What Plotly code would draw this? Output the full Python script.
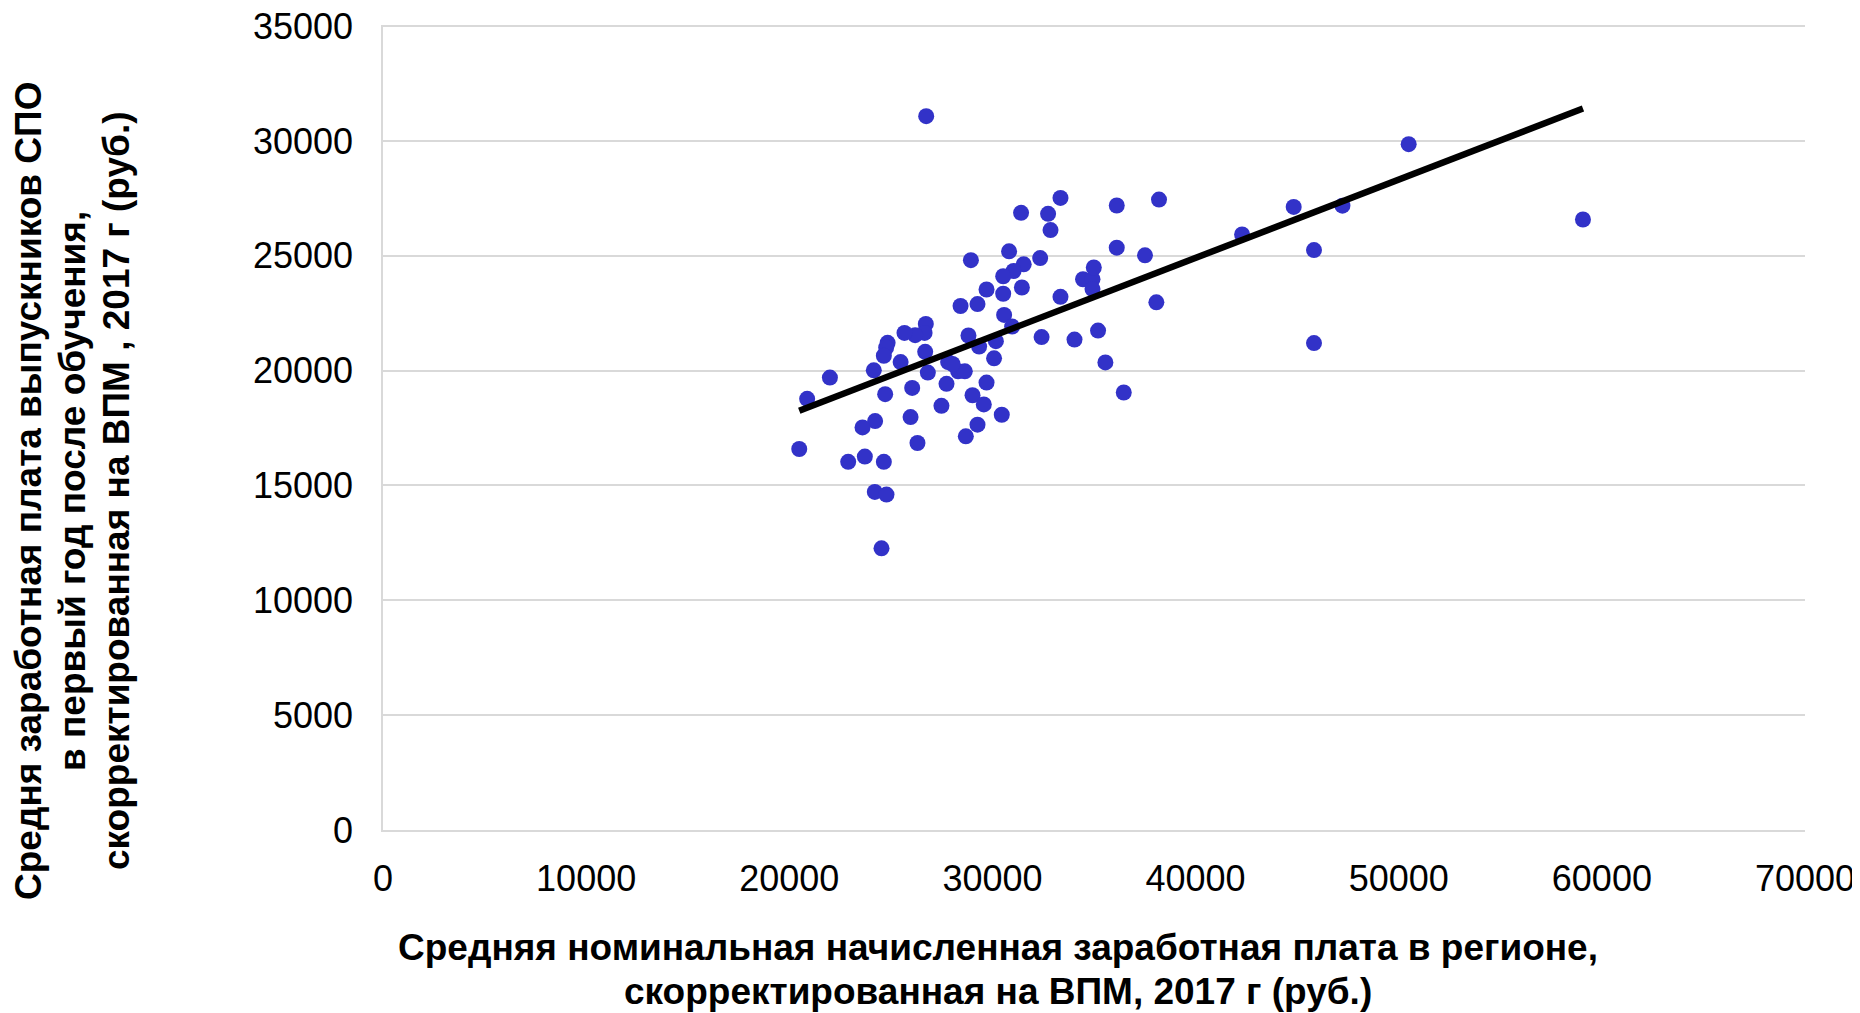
import plotly.graph_objects as go

# Regional average nominal wage (x) vs. graduate wage (y), rubles
region_wage = [
    33350, 31410, 32740, 32860, 36120, 38200, 28940, 30820, 32350, 36120,
    37510, 31540, 31040, 30530, 29710, 31450, 30530, 28430, 29265, 30575,
    30970, 33350, 34460, 34925, 34990, 34925, 35200, 32420, 34040, 35560,
    36465, 38070, 28820, 30170, 29345, 30080, 27820, 28310, 28640, 27740,
    29710, 29020, 29575, 27490, 30460, 29265, 28690, 26720, 26660, 26195,
    25670, 26690, 26820, 25480, 24840, 24770, 24655, 24160, 22000, 20880,
    24720, 26050, 25970, 24225, 23605, 26310, 20490, 22900, 23720, 24655,
    24210, 24785, 24540, 28035, 42290, 44830, 47230, 45830, 45830, 50490,
    59070, 26740,
]
graduate_wage = [
    27520, 26870, 26830, 26120, 27190, 27450, 24810, 25195, 24900, 25355,
    25020, 24630, 24340, 24110, 23535, 23620, 23350, 22815, 22900, 22425,
    21920, 23215, 23980, 23980, 24490, 23550, 21745, 21460, 21355, 20360,
    19050, 22975, 21530, 21285, 21050, 20535, 20375, 19970, 19970, 19425,
    19480, 18930, 18530, 18470, 18080, 17650, 17140, 22035, 21645, 21545,
    21645, 20820, 19915, 20375, 21210, 21005, 20650, 20015, 19700, 18775,
    18975, 19250, 17980, 17805, 17530, 16850, 16590, 16030, 16260, 16030,
    14720, 14605, 12265, 20290, 25930, 27130, 27185, 25250, 21200, 29860,
    26580, 31080,
]
# Linear trend line end points
trend_x = [20490, 59070]
trend_y = [18255, 31415]

x_ticks = [0, 10000, 20000, 30000, 40000, 50000, 60000, 70000]
y_ticks = [0, 5000, 10000, 15000, 20000, 25000, 30000, 35000]

x_title_lines = [
    "Средняя номинальная начисленная заработная плата в регионе,",
    "скорректированная на ВПМ, 2017 г (руб.)",
]
y_title_lines = [
    "Средня заработная плата выпускников СПО",
    "в первый год после обучения,",
    "скорректированная на ВПМ , 2017 г (руб.)",
]

FONT = "Liberation Sans, Arial, sans-serif"
TITLE_SIZE = 37

# page body has an 8px margin, figure sized to fit the 1860x1013 window
W, H = 1852, 1005
OFF = 8
PL, PR, PT, PB = 383, 1805, 25, 830   # plot area in window pixels
Y_MAX = 35050   # a hair above 35000 so that the top gridline is drawn


def px_x(X):
    return (X - PL) / (PR - PL)


def px_y(Y):
    return (PB - Y) / (PB - PT)


fig = go.Figure()
fig.add_trace(go.Scatter(
    x=region_wage, y=graduate_wage, mode="markers",
    marker=dict(size=16, color="#3232C8", line=dict(width=0)),
    showlegend=False,
))
fig.add_trace(go.Scatter(
    x=trend_x, y=trend_y, mode="lines",
    line=dict(color="black", width=6.5),
    showlegend=False,
))

annotations = []
for txt, Y in zip(x_title_lines, [947, 991]):
    annotations.append(dict(
        text="<b>" + txt + "</b>", xref="paper", yref="paper",
        x=px_x(997.6), y=px_y(Y), xanchor="center", yanchor="middle",
        showarrow=False, font=dict(size=TITLE_SIZE, family=FONT, color="black")))
for txt, X in zip(y_title_lines, [28, 72, 116]):
    annotations.append(dict(
        text="<b>" + txt + "</b>", xref="paper", yref="paper",
        x=px_x(X), y=px_y(491), xanchor="center", yanchor="middle",
        textangle=-90, showarrow=False,
        font=dict(size=TITLE_SIZE, family=FONT, color="black")))

fig.update_layout(
    width=W, height=H,
    margin=dict(l=PL - OFF, r=OFF + W - PR, t=PT - OFF, b=OFF + H - PB),
    paper_bgcolor="white", plot_bgcolor="white",
    font=dict(family=FONT, color="black"),
    xaxis=dict(
        range=[0, 70000], tickvals=x_ticks, ticktext=[str(v) for v in x_ticks],
        showgrid=False, zeroline=False, automargin=False,
        showline=True, linecolor="#D9D9D9", linewidth=1.5,
        tickfont=dict(size=36, family=FONT, color="black"),
        ticks="", ticklabelstandoff=16, ticklabeloverflow="allow",
    ),
    yaxis=dict(
        range=[0, Y_MAX], tickvals=y_ticks, ticktext=[str(v) for v in y_ticks],
        showgrid=True, gridcolor="#D9D9D9", gridwidth=1.5, zeroline=False,
        automargin=False,
        showline=True, linecolor="#D9D9D9", linewidth=1.5,
        tickfont=dict(size=36, family=FONT, color="black"),
        ticks="", ticklabelstandoff=21, ticklabeloverflow="allow",
    ),
    annotations=annotations,
)

fig.write_html("out.html")
